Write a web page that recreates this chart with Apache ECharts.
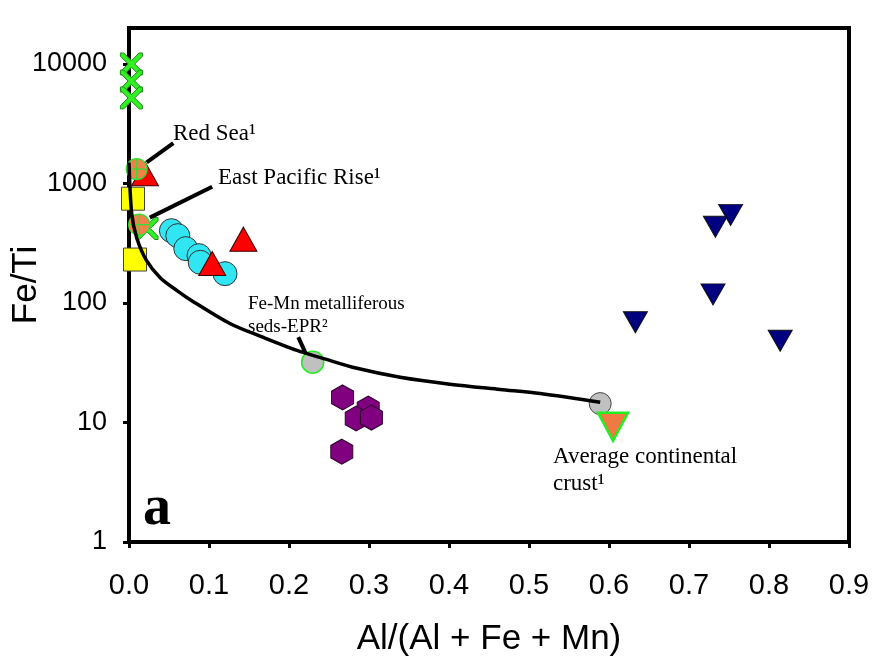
<!DOCTYPE html>
<html>
<head>
<meta charset="utf-8">
<script src="https://cdn.jsdelivr.net/npm/echarts@6/dist/echarts.min.js"></script>
<style>
  html, body { margin: 0; padding: 0; background: #fff; }
  #chart { width: 872px; height: 663px; }
</style>
</head>
<body>
<div id="chart"></div>
<script>
// Sample groups: [Al/(Al+Fe+Mn), Fe/Ti]
const greenCrosses   = [[0.003, 10000], [0.003, 7200], [0.003, 5200], [0.0225, 420]];
const cyanCircles    = [[0.053, 403], [0.061, 366], [0.071, 285], [0.0875, 249], [0.089, 219], [0.12, 176]];
const redTriangles   = [[0.02, 1206], [0.143, 342], [0.104, 214]];
const yellowSquares  = [[0.005, 746], [0.0075, 231]];
const purpleHexagons = [[0.267, 16.2], [0.299, 13.1], [0.284, 10.8], [0.303, 11.0], [0.266, 5.7]];
const navyTriangles  = [[0.752, 546], [0.733, 435], [0.730, 118], [0.633, 69], [0.814, 48.3]];

// Reference end-members
const redSea          = [[0.0096, 1321]];
const eastPacificRise = [[0.0127, 452]];
const feMnEPR         = [[0.2296, 32]];
const avgCrust        = [[0.589, 14.4]];
const crustTriangle   = [[0.605, 9.2]];

// Mixing curve between hydrothermal end-member and average crust
const mixingCurve = [
  [0.0, 1500], [0.0034, 559], [0.0096, 352], [0.022, 226], [0.039, 163],
  [0.060, 127], [0.078, 105], [0.126, 67.4], [0.168, 51.5], [0.21, 40.1],
  [0.2425, 34.4], [0.285, 28.4], [0.339, 23.9], [0.401, 20.9], [0.464, 18.9],
  [0.514, 17.5], [0.589, 14.8]
];

// Leader lines for the annotations
const leaderRedSea = [[0.0221, 1500], [0.0554, 2177]];
const leaderEPR    = [[0.026, 518], [0.104, 940]];
const leaderFeMn   = [[0.2116, 51.8], [0.221, 37.7]];

const xTicks = [0, 0.1, 0.2, 0.3, 0.4, 0.5, 0.6, 0.7, 0.8, 0.9];
const yTicks = [1, 10, 100, 1000, 10000];

const SANS = 'Liberation Sans, Arial, sans-serif';
const SERIF = 'Liberation Serif, Times New Roman, serif';

const crossPath = 'path://M0,0 L3,0 L10,7 L17,0 L20,0 L20,3 L13,10 L20,17 L20,20 L17,20 L10,13 L3,20 L0,20 L0,17 L7,10 L0,3 Z';
const hexPath = 'path://M10,0 L20,5.77 L20,17.32 L10,23.09 L0,17.32 L0,5.77 Z';
const circleCrossPath = 'path://M0,-10 A10,10 0 1,1 0,10 A10,10 0 1,1 0,-10 Z M-10,0 L10,0 M0,-10 L0,10';

function scatter(data, symbol, size, color, border, bw, extra) {
  return Object.assign({
    type: 'scatter', data: data, symbol: symbol, symbolSize: size,
    itemStyle: { color: color, borderColor: border, borderWidth: bw, opacity: 1 },
    emphasis: { disabled: true }, silent: true
  }, extra || {});
}
function leader(data) {
  return {
    type: 'line', data: data, symbol: 'none', silent: true,
    lineStyle: { color: '#000', width: 4 }, z: 5
  };
}

const chart = echarts.init(document.getElementById('chart'), null, { renderer: 'canvas' });
chart.setOption({
  animation: false,
  backgroundColor: '#fff',
  grid: {
    left: 129, right: 23, top: 28, bottom: 121,
    containLabel: false, outerBoundsMode: 'none',
    show: true, borderColor: '#000', borderWidth: 4, backgroundColor: 'transparent'
  },
  xAxis: {
    type: 'value', min: 0, max: 0.9, interval: 0.1,
    name: 'Al/(Al + Fe + Mn)', nameLocation: 'middle', nameGap: 80,
    nameTextStyle: { fontFamily: SANS, fontSize: 35, color: '#000' },
    axisLine: { show: true, onZero: false, lineStyle: { color: '#000', width: 4 } },
    axisTick: { show: true, inside: false, length: 6, lineStyle: { color: '#000', width: 3 } },
    axisLabel: {
      fontFamily: SANS, fontSize: 29, color: '#000', margin: 29,
      formatter: v => xTicks.some(t => Math.abs(t - v) < 1e-9) ? v.toFixed(1) : ''
    },
    splitLine: { show: false }
  },
  yAxis: {
    type: 'log', logBase: 10, min: 1, max: 20000,
    name: 'Fe/Ti', nameLocation: 'middle', nameGap: 85, nameMoveOverlap: false,
    nameTextStyle: { fontFamily: SANS, fontSize: 35, color: '#000' },
    axisLine: { show: true, lineStyle: { color: '#000', width: 4 } },
    axisTick: { show: true, inside: false, length: 6, lineStyle: { color: '#000', width: 3 } },
    axisLabel: {
      fontFamily: SANS, fontSize: 27, color: '#000', margin: 22, showMaxLabel: false,
      formatter: v => yTicks.some(t => Math.abs(t - v) / t < 1e-6) ? String(Math.round(v)) : ''
    },
    splitLine: { show: false }
  },
  series: [
    scatter(greenCrosses, crossPath, 22, '#33ee22', '#1b8f1b', 1, { z: 2 }),
    scatter(cyanCircles, 'circle', 24, '#2fe6f2', '#333', 1, { z: 2 }),
    scatter(redTriangles, 'triangle', [27, 24], '#ff0000', '#3a0000', 1, { z: 3 }),
    scatter(yellowSquares, 'rect', 23, '#ffff00', '#444', 1, { z: 3 }),
    scatter(purpleHexagons, hexPath, [22, 25], '#800080', '#2a002a', 1, { z: 3 }),
    scatter(navyTriangles, 'triangle', [24, 21], '#000080', '#111', 1, { symbolRotate: 180, z: 3 }),
    scatter(redSea, circleCrossPath, 21, '#f3824a', '#33dd33', 1.2, { z: 4 }),
    scatter(eastPacificRise, circleCrossPath, 21, '#f3824a', '#33dd33', 1.2, { z: 4 }),
    scatter(feMnEPR, 'circle', 22, '#c0c0c0', '#22ee22', 1.5, { z: 4 }),
    scatter(avgCrust, 'circle', 22, '#c0c0c0', '#444', 1, { z: 4 }),
    scatter(crustTriangle, 'triangle', [30, 28], '#f07a42', '#22ee22', 2.5, { symbolRotate: 180, z: 4 }),
    {
      type: 'line', data: mixingCurve, symbol: 'none', smooth: 0.3, silent: true,
      lineStyle: { color: '#000', width: 3.5 }, z: 5
    },
    leader(leaderRedSea),
    leader(leaderEPR),
    leader(leaderFeMn)
  ],
  graphic: [
    { type: 'text', left: 173, top: 122, silent: true, z: 10,
      style: { text: 'Red Sea¹', font: '23px ' + SERIF, fill: '#000' } },
    { type: 'text', left: 218, top: 166, silent: true, z: 10,
      style: { text: 'East Pacific Rise¹', font: '23px ' + SERIF, fill: '#000' } },
    { type: 'text', left: 248, top: 295, silent: true, z: 10,
      style: { text: 'Fe-Mn metalliferous', font: '19px ' + SERIF, fill: '#000' } },
    { type: 'text', left: 248, top: 318, silent: true, z: 10,
      style: { text: 'seds-EPR²', font: '19px ' + SERIF, fill: '#000' } },
    { type: 'text', left: 553, top: 445, silent: true, z: 10,
      style: { text: 'Average continental', font: '23px ' + SERIF, fill: '#000' } },
    { type: 'text', left: 553, top: 472, silent: true, z: 10,
      style: { text: 'crust¹', font: '23px ' + SERIF, fill: '#000' } },
    { type: 'text', left: 143, top: 482, silent: true, z: 10,
      style: { text: 'a', font: 'bold 56px ' + SERIF, fill: '#000' } }
  ]
});
</script>
</body>
</html>
